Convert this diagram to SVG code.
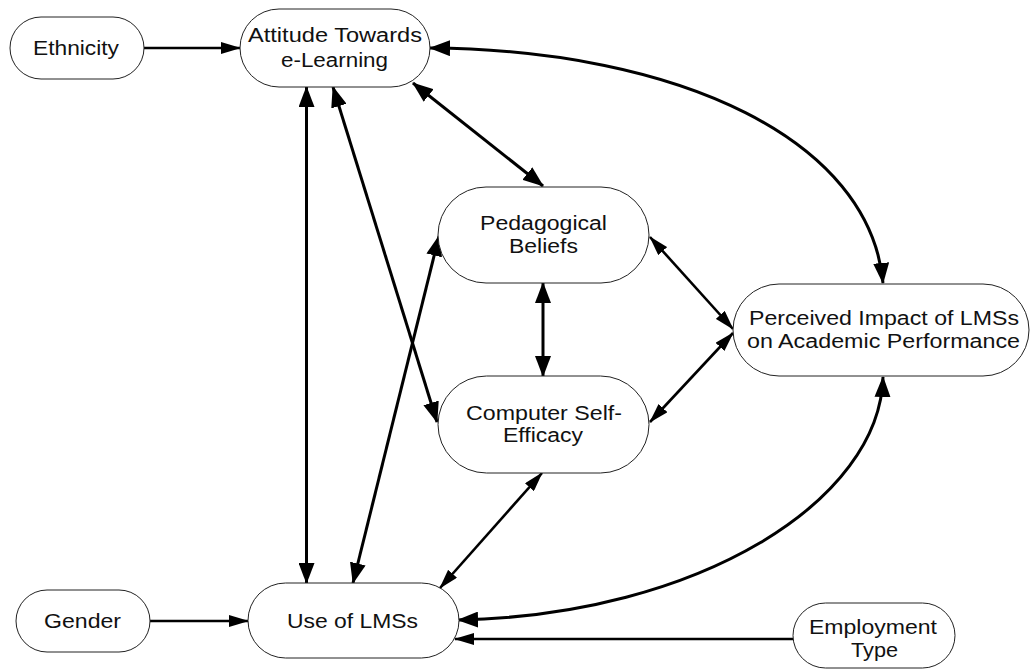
<svg xmlns="http://www.w3.org/2000/svg" width="1030" height="670" viewBox="0 0 1030 670">
<style>
.node rect{fill:#fff;stroke:#222;stroke-width:1}
.node text{font-family:"Liberation Sans",Arial,sans-serif;font-size:20px;fill:#111}
.c{fill:none;stroke:#000;stroke-width:3}
.t{fill:none;stroke:#000;stroke-width:2.6}
</style>
<defs>
<marker id="ah" markerUnits="userSpaceOnUse" markerWidth="21" markerHeight="16" viewBox="0 0 21 16" refX="20" refY="8" orient="auto-start-reverse">
<path d="M0,0 L21,8 L0,16 z" fill="#000"/>
</marker>
<marker id="as" markerUnits="userSpaceOnUse" markerWidth="20" markerHeight="12" viewBox="0 0 20 12" refX="19" refY="6" orient="auto-start-reverse">
<path d="M0,0 L20,6 L0,12 z" fill="#000"/>
</marker>
</defs>
<g id="connectors">
<path class="t" d="M144,48 L240,48" marker-end="url(#as)"/>
<path class="t" d="M150,621 L248,621" marker-end="url(#as)"/>
<path class="t" d="M793,639 L455,639" marker-end="url(#as)"/>
<path class="c" d="M306.5,87 L306.5,583" marker-start="url(#ah)" marker-end="url(#ah)"/>
<path class="c" d="M333,87 L437,422" marker-start="url(#ah)" marker-end="url(#ah)"/>
<path class="c" d="M353,583 L439,236" marker-start="url(#ah)" marker-end="url(#ah)"/>
<path class="c" d="M413,83 L543,186" marker-start="url(#ah)" marker-end="url(#ah)"/>
<path class="c" d="M543,283 L543,376" marker-start="url(#ah)" marker-end="url(#ah)"/>
<path class="t" d="M650,237 L733,329" marker-start="url(#as)" marker-end="url(#as)"/>
<path class="t" d="M650,422 L733,333" marker-start="url(#as)" marker-end="url(#as)"/>
<path class="t" d="M542,473 L440,588" marker-start="url(#as)" marker-end="url(#as)"/>
<path class="c" d="M430,48 C680,50 870,140 883,283" marker-start="url(#ah)" marker-end="url(#ah)"/>
<path class="c" d="M458,620 C700,615 880,500 883,377" marker-start="url(#ah)" marker-end="url(#ah)"/>
</g>
<g id="ethnicity" class="node">
<rect x="10" y="17" width="134" height="62" rx="31"/>
<text x="33" y="54.5" textLength="86" lengthAdjust="spacingAndGlyphs">Ethnicity</text>
</g>
<g id="attitude" class="node">
<rect x="240" y="9" width="190" height="78" rx="39"/>
<text x="248" y="42" textLength="174" lengthAdjust="spacingAndGlyphs">Attitude Towards</text>
<text x="281" y="67" textLength="107" lengthAdjust="spacingAndGlyphs">e-Learning</text>
</g>
<g id="pedagogical" class="node">
<rect x="438" y="187" width="211" height="96" rx="48"/>
<text x="480" y="230" textLength="127" lengthAdjust="spacingAndGlyphs">Pedagogical</text>
<text x="509" y="252.5" textLength="69" lengthAdjust="spacingAndGlyphs">Beliefs</text>
</g>
<g id="computer" class="node">
<rect x="438" y="376" width="211" height="97" rx="48.5"/>
<text x="466" y="419.5" textLength="156" lengthAdjust="spacingAndGlyphs">Computer Self-</text>
<text x="503" y="442" textLength="80" lengthAdjust="spacingAndGlyphs">Efficacy</text>
</g>
<g id="perceived" class="node">
<rect x="733" y="284" width="296" height="92" rx="46"/>
<text x="749" y="324.5" textLength="270" lengthAdjust="spacingAndGlyphs">Perceived Impact of LMSs</text>
<text x="747" y="348" textLength="273" lengthAdjust="spacingAndGlyphs">on Academic Performance</text>
</g>
<g id="use" class="node">
<rect x="248" y="583" width="211" height="75" rx="37.5"/>
<text x="287" y="627.5" textLength="131" lengthAdjust="spacingAndGlyphs">Use of LMSs</text>
</g>
<g id="gender" class="node">
<rect x="16" y="590" width="134" height="62" rx="31"/>
<text x="44" y="627.5" textLength="77" lengthAdjust="spacingAndGlyphs">Gender</text>
</g>
<g id="employment" class="node">
<rect x="793" y="603" width="162" height="65" rx="32.5"/>
<text x="809" y="634" textLength="128" lengthAdjust="spacingAndGlyphs">Employment</text>
<text x="851" y="656.5" textLength="47" lengthAdjust="spacingAndGlyphs">Type</text>
</g>
</svg>
